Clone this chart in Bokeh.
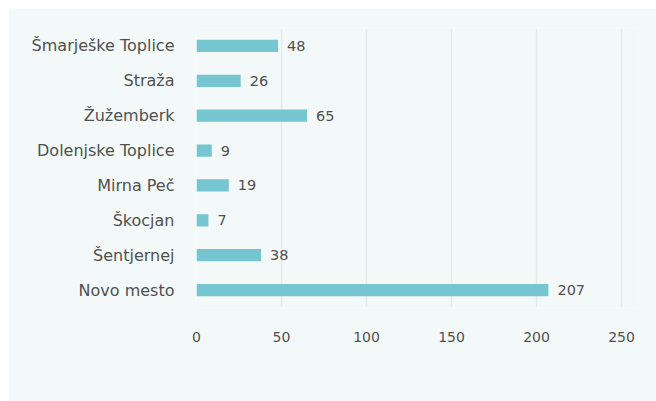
from bokeh.plotting import figure
from bokeh.models import ColumnDataSource, FactorRange, Range1d, FixedTicker
from bokeh.embed import file_html
from bokeh.resources import INLINE
from bokeh.core.properties import value

categories = ["Šmarješke Toplice", "Straža", "Žužemberk", "Dolenjske Toplice",
              "Mirna Peč", "Škocjan", "Šentjernej", "Novo mesto"]
counts = [48, 26, 65, 9, 19, 7, 38, 207]
x_ticks = [0, 50, 100, 150, 200, 250]

BG = "#f3f9f9"
BAR = "#76c6d2"
TXT = "#505050"
FONT = "DejaVu Sans"

src = ColumnDataSource(dict(cat=categories, val=counts, lab=[str(v) for v in counts]))

p = figure(width=648, height=393, output_backend="svg", toolbar_location=None,
           y_range=FactorRange(factors=categories[::-1], range_padding=0),
           x_range=Range1d(0, 260),
           min_border_left=188, min_border_right=18, min_border_top=20, min_border_bottom=94)
p.margin = (8, 0, 0, 8)
p.background_fill_color = BG
p.border_fill_color = BG
p.outline_line_color = None

p.hbar(y="cat", right="val", left=0, height=0.35, source=src, color=BAR, line_color=None)
p.text(x="val", y="cat", text="lab", source=src, x_offset=9, text_align="left",
       text_baseline="middle", text_font=value(FONT), text_font_size="14.5px", text_color=TXT)

p.ygrid.grid_line_color = None
p.xgrid.grid_line_color = "#e4ebeb"
p.xgrid.grid_line_width = 1.5
p.xaxis.ticker = FixedTicker(ticks=x_ticks)
for ax in (p.xaxis[0], p.yaxis[0]):
    ax.axis_line_color = None
    ax.major_tick_line_color = None
    ax.minor_tick_line_color = None
    ax.major_label_text_font = FONT
    ax.major_label_text_color = TXT
p.xaxis.major_label_text_font_size = "14px"
p.xaxis.major_label_standoff = 18
p.yaxis.major_label_text_font_size = "16px"
p.yaxis.major_label_standoff = 16

open("out.html", "w").write(file_html(p, INLINE))
